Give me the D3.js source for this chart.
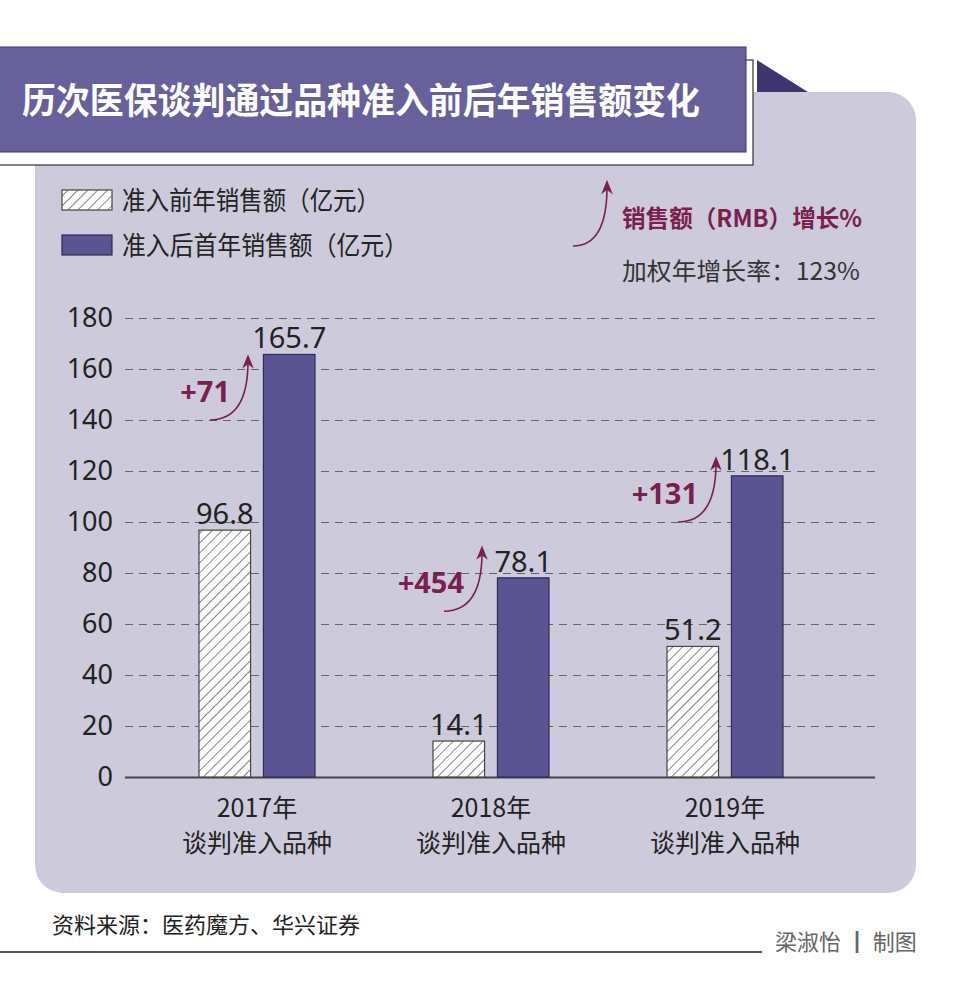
<!DOCTYPE html>
<html>
<head>
<meta charset="utf-8">
<script src="https://cdn.jsdelivr.net/npm/d3@7"></script>
<style>
  body { margin: 0; background: #fff; }
  svg { display: block; font-family: "Noto Sans CJK SC", "Noto Sans", sans-serif; }
</style>
</head>
<body>
<svg id="chart" width="960" height="981"></svg>
<script>
// données
const years = ['2017年', '2018年', '2019年'];
const subLabel = '谈判准入品种';
const beforeValues = [96.8, 14.1, 51.2];
const afterValues = [165.7, 78.1, 118.1];
const growthLabels = ['+71', '+454', '+131'];
// arrow start / tip, in axis units
const arrowFrom = [140, 65, 100];
const arrowTo = [163, 88, 123];
const yTicks = [0, 20, 40, 60, 80, 100, 120, 140, 160, 180];

const svg = d3.select('#chart');

const purple = '#5a5493';
const magenta = '#7b1f4f';

// defs : hachures
const defs = svg.append('defs');
const pat = defs.append('pattern')
  .attr('id', 'hatch')
  .attr('patternUnits', 'userSpaceOnUse')
  .attr('width', 7).attr('height', 7)
  .attr('patternTransform', 'rotate(45)');
pat.append('rect').attr('width', 7).attr('height', 7).attr('fill', '#fff');
pat.append('line').attr('x1', 0).attr('y1', 0).attr('x2', 0).attr('y2', 7)
  .attr('stroke', '#666').attr('stroke-width', 1.6);

defs.append('marker')
  .attr('id', 'head')
  .attr('viewBox', '0 0 10 10')
  .attr('refX', 5).attr('refY', 5)
  .attr('markerWidth', 9).attr('markerHeight', 9)
  .attr('orient', 'auto')
  .append('path')
  .attr('d', 'M0,1 L10,5 L0,9 L3,5 Z')
  .attr('fill', magenta);

// panneau
svg.append('rect')
  .attr('x', 35).attr('y', 92).attr('width', 881).attr('height', 801)
  .attr('rx', 28).attr('fill', '#cdcbdb');

// bandeau titre
svg.append('path')
  .attr('d', 'M757,60 L808,92 L757,92 Z')
  .attr('fill', '#3d3670');
svg.append('rect')
  .attr('x', -2).attr('y', 60).attr('width', 755).attr('height', 105)
  .attr('fill', '#fff').attr('stroke', '#333').attr('stroke-width', 1.2);
svg.append('rect')
  .attr('x', -2).attr('y', 47).attr('width', 748).attr('height', 105)
  .attr('fill', '#67609a').attr('stroke', '#3d3670').attr('stroke-width', 1);
svg.append('text')
  .attr('x', 22).attr('y', 114)
  .attr('fill', '#fff').attr('font-size', 36).attr('font-weight', 'bold')
  .attr('textLength', 678).attr('lengthAdjust', 'spacingAndGlyphs')
  .text('历次医保谈判通过品种准入前后年销售额变化');

// échelles
const margin = { left: 125, right: 875, top: 318, bottom: 777 };
const y = d3.scaleLinear().domain([0, 180]).range([margin.bottom, margin.top]);
const x = d3.scaleBand().domain(years).range([140, 842]).padding(0);
const x1 = d3.scaleBand().domain(['before', 'after']).range([-58, 58]).paddingInner(0.2);

// grille / axe Y
const yAxis = svg.append('g')
  .attr('transform', `translate(${margin.left},0)`)
  .call(d3.axisLeft(y).tickValues(yTicks).tickSize(-(margin.right - margin.left)).tickPadding(12));
yAxis.select('.domain').remove();
yAxis.selectAll('.tick line')
  .attr('stroke-dasharray', d => d === 0 ? null : '8,6')
  .attr('stroke-width', d => d === 0 ? 2 : 1.1)
  .attr('stroke', d => d === 0 ? '#444' : '#666');
yAxis.selectAll('.tick text')
  .attr('font-size', 27).attr('fill', '#222')
  .attr('font-family', '"Noto Sans", sans-serif');

// barres
const groups = svg.append('g').selectAll('g')
  .data(years)
  .join('g')
  .attr('transform', d => `translate(${x(d) + x.bandwidth() / 2},0)`);

groups.append('rect')
  .attr('x', x1('before'))
  .attr('y', (d, i) => y(beforeValues[i]))
  .attr('width', x1.bandwidth())
  .attr('height', (d, i) => y(0) - y(beforeValues[i]))
  .attr('fill', 'url(#hatch)')
  .attr('stroke', '#444').attr('stroke-width', 1.2);

groups.append('rect')
  .attr('x', x1('after'))
  .attr('y', (d, i) => y(afterValues[i]))
  .attr('width', x1.bandwidth())
  .attr('height', (d, i) => y(0) - y(afterValues[i]))
  .attr('fill', purple)
  .attr('stroke', '#2e2a55').attr('stroke-width', 1.2);

// étiquettes de valeur
groups.append('text')
  .attr('x', x1('before') + x1.bandwidth() / 2)
  .attr('y', (d, i) => y(beforeValues[i]) - 6)
  .attr('text-anchor', 'middle')
  .attr('font-size', 29).attr('fill', '#222')
  .attr('font-family', '"Noto Sans", sans-serif')
  .text((d, i) => beforeValues[i].toFixed(1));

groups.append('text')
  .attr('x', x1('after') + x1.bandwidth() / 2)
  .attr('y', (d, i) => y(afterValues[i]) - 6)
  .attr('text-anchor', 'middle')
  .attr('font-size', 29).attr('fill', '#222')
  .attr('font-family', '"Noto Sans", sans-serif')
  .text((d, i) => afterValues[i].toFixed(1));

// flèches de croissance
function curve(x0, y0, x1, y1) {
  return `M${x0},${y0} Q${x1},${y0} ${x1},${y1}`;
}
groups.append('path')
  .attr('d', (d, i) => curve(-47, y(arrowFrom[i]), -9, y(arrowTo[i])))
  .attr('fill', 'none').attr('stroke', magenta).attr('stroke-width', 1.6)
  .attr('marker-end', 'url(#head)');

groups.append('text')
  .attr('x', -27)
  .attr('y', (d, i) => y(arrowFrom[i]) - 18)
  .attr('text-anchor', 'end')
  .attr('font-size', 29).attr('font-weight', 'bold').attr('fill', magenta)
  .attr('font-family', '"Noto Sans", sans-serif')
  .text((d, i) => growthLabels[i]);

// axe X
const xLabels = svg.append('g').selectAll('text')
  .data(years)
  .join('text')
  .attr('x', d => x(d) + x.bandwidth() / 2)
  .attr('y', 817)
  .attr('text-anchor', 'middle')
  .attr('font-size', 25).attr('fill', '#222');
xLabels.append('tspan').text(d => d);
xLabels.append('tspan')
  .attr('x', d => x(d) + x.bandwidth() / 2)
  .attr('dy', 35)
  .text(subLabel);

// légende
const legend = svg.append('g');
legend.append('rect').attr('x', 62).attr('y', 190).attr('width', 50).attr('height', 20)
  .attr('fill', 'url(#hatch)').attr('stroke', '#444').attr('stroke-width', 1.2);
legend.append('text').attr('x', 122).attr('y', 210).attr('font-size', 26).attr('fill', '#222')
  .attr('textLength', 258).attr('lengthAdjust', 'spacingAndGlyphs')
  .text('准入前年销售额（亿元）');
legend.append('rect').attr('x', 62).attr('y', 235).attr('width', 50).attr('height', 20)
  .attr('fill', purple).attr('stroke', '#2e2a55').attr('stroke-width', 1.2);
legend.append('text').attr('x', 122).attr('y', 255).attr('font-size', 26).attr('fill', '#222')
  .attr('textLength', 286).attr('lengthAdjust', 'spacingAndGlyphs')
  .text('准入后首年销售额（亿元）');

legend.append('path')
  .attr('d', curve(573, 246, 607, 187))
  .attr('fill', 'none').attr('stroke', magenta).attr('stroke-width', 1.6)
  .attr('marker-end', 'url(#head)');
legend.append('text').attr('x', 622).attr('y', 227)
  .attr('font-size', 24).attr('font-weight', 'bold').attr('fill', magenta)
  .attr('textLength', 240).attr('lengthAdjust', 'spacingAndGlyphs')
  .text('销售额（RMB）增长%');
legend.append('text').attr('x', 622).attr('y', 280)
  .attr('font-size', 24).attr('fill', '#333')
  .attr('textLength', 238).attr('lengthAdjust', 'spacingAndGlyphs')
  .text('加权年增长率：123%');

// pied de page
svg.append('text').attr('x', 52).attr('y', 933)
  .attr('font-size', 22).attr('fill', '#222')
  .text('资料来源：医药魔方、华兴证券');
svg.append('line').attr('x1', 0).attr('x2', 762).attr('y1', 952).attr('y2', 952)
  .attr('stroke', '#555').attr('stroke-width', 2);
svg.append('text').attr('x', 775).attr('y', 950)
  .attr('font-size', 22).attr('fill', '#666')
  .text('梁淑怡 ┃ 制图');
</script>
</body>
</html>
